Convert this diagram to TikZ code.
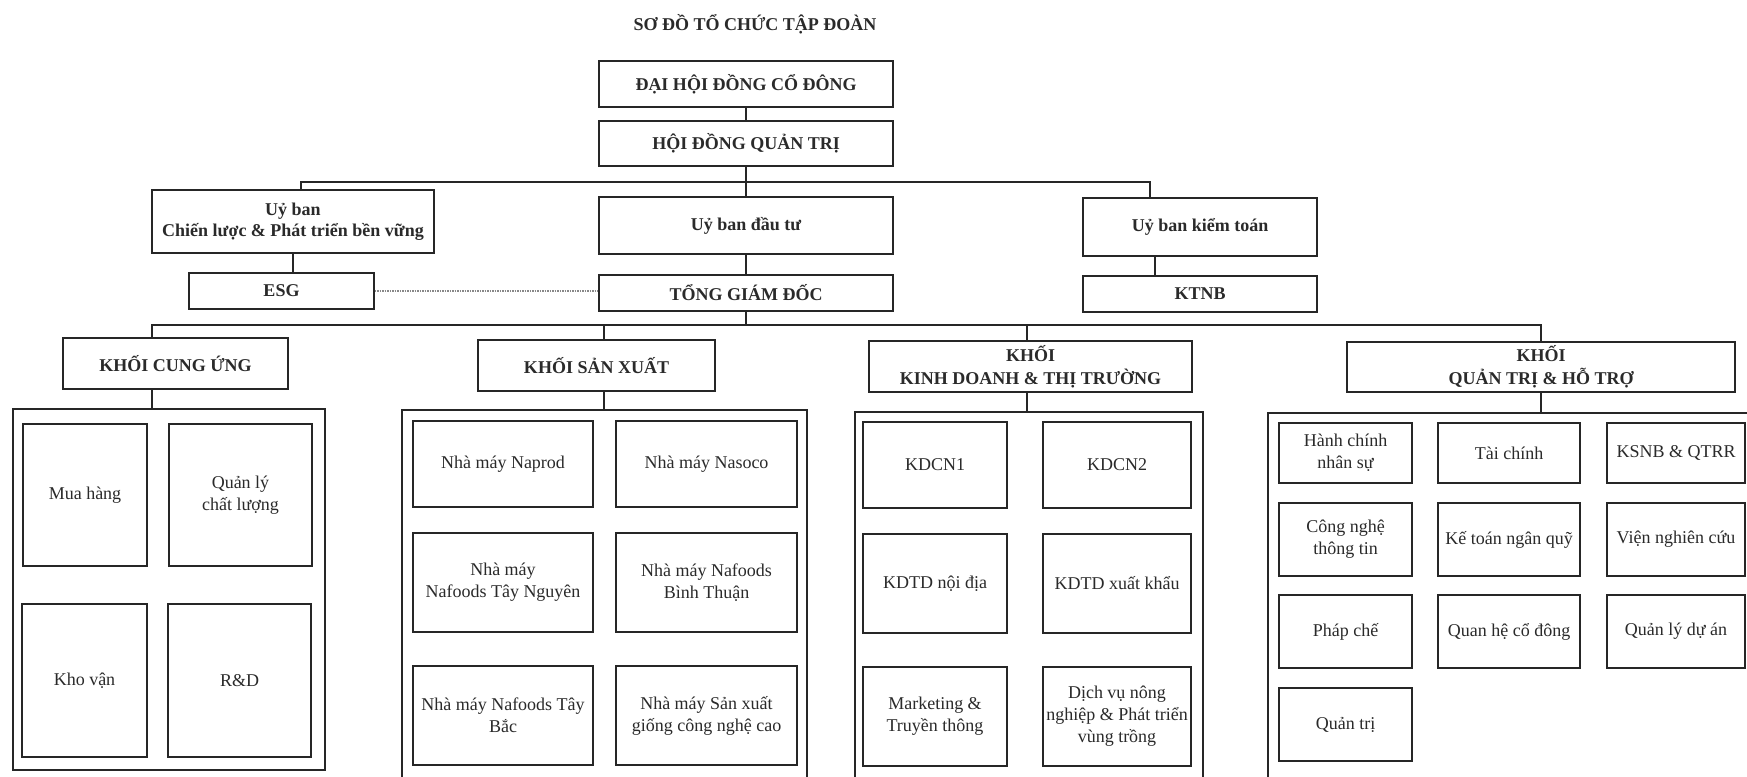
\documentclass[tikz,border=0pt]{standalone}
\usepackage{fontspec}
\setmainfont{Liberation Serif}
\definecolor{linec}{HTML}{262626}
\definecolor{textc}{HTML}{2A2A2A}
\begin{document}
\begin{tikzpicture}[x=1pt,y=-1pt,
  box/.style={draw=linec, line width=1.3pt, inner sep=2pt, align=center, text=textc, font=\fontsize{18}{22}\selectfont},
  bbox/.style={box, font=\bfseries\fontsize{18}{23}\selectfont},
  cont/.style={draw=linec, line width=1.3pt, inner sep=0pt},
  conn/.style={draw=linec, line width=1.3pt},
  dotline/.style={draw=linec!55, line width=1.6pt, dash pattern=on 1.5pt off 1pt},
]
\useasboundingbox (0,0) rectangle (1747,776);
\clip (0,0) rectangle (1747,776);
\fill[white] (0,0) rectangle (1747,776);

% title
\node[text=textc, font=\bfseries\fontsize{18}{22}\selectfont] (title) at (755,24) {SƠ ĐỒ TỔ CHỨC TẬP ĐOÀN};

% top levels
\node[bbox, minimum width=294pt, minimum height=46pt] (dhdcd) at (746,84) {ĐẠI HỘI ĐỒNG CỔ ĐÔNG};
\node[bbox, minimum width=294pt, minimum height=45pt] (hdqt) at (746,143.5) {HỘI ĐỒNG QUẢN TRỊ};
\node[bbox, minimum width=282pt, minimum height=63pt, font=\bfseries\fontsize{18}{21}\selectfont] (ubcl) at (293,221.5) {Uỷ ban\\Chiến lược \& Phát triển bền vững};
\node[bbox, minimum width=294pt, minimum height=57pt] (ubdt) at (746,225.5) {Uỷ ban đầu tư};
\node[bbox, minimum width=234pt, minimum height=58pt] (ubkt) at (1200,227) {Uỷ ban kiểm toán};
\node[bbox, minimum width=185pt, minimum height=36pt] (esg) at (281.5,291) {ESG};
\node[bbox, minimum width=294pt, minimum height=36pt] (tgd) at (746,293) {TỔNG GIÁM ĐỐC};
\node[bbox, minimum width=234pt, minimum height=36pt] (ktnb) at (1200,294) {KTNB};

% khoi headers
\node[bbox, minimum width=225pt, minimum height=51pt] (kcu) at (175.5,363.5) {KHỐI CUNG ỨNG};
\node[bbox, minimum width=237pt, minimum height=51pt] (ksx) at (596.5,365.5) {KHỐI SẢN XUẤT};
\node[bbox, minimum width=323pt, minimum height=51pt] (kkd) at (1030.5,366.5) {KHỐI\\KINH DOANH \& THỊ TRƯỜNG};
\node[bbox, minimum width=388pt, minimum height=50pt] (kqt) at (1541,367) {KHỐI\\QUẢN TRỊ \& HỖ TRỢ};

% containers
\node[cont, minimum width=312pt, minimum height=361pt] (ccu) at (169,589.5) {};
\node[cont, minimum width=405pt, minimum height=390pt] (csx) at (604.5,605) {};
\node[cont, minimum width=348pt, minimum height=388pt] (ckd) at (1029,606) {};
\node[cont, minimum width=512pt, minimum height=387pt] (cqt) at (1524,606.5) {};

% khoi cung ung
\node[box, minimum width=124pt, minimum height=142pt] (mua) at (85,495) {Mua hàng};
\node[box, minimum width=143pt, minimum height=142pt] (qlcl) at (240.5,495) {Quản lý\\chất lượng};
\node[box, minimum width=125pt, minimum height=153pt] (kho) at (84.5,680.5) {Kho vận};
\node[box, minimum width=143pt, minimum height=153pt] (rd) at (239.5,680.5) {R\&D};

% khoi san xuat
\node[box, minimum width=180pt, minimum height=86pt] (naprod) at (503,464) {Nhà máy Naprod};
\node[box, minimum width=181pt, minimum height=86pt] (nasoco) at (706.5,464) {Nhà máy Nasoco};
\node[box, minimum width=180pt, minimum height=99pt] (ntn) at (503,582.5) {Nhà máy\\Nafoods Tây Nguyên};
\node[box, minimum width=181pt, minimum height=99pt] (nbt) at (706.5,582.5) {Nhà máy Nafoods\\Bình Thuận};
\node[box, minimum width=180pt, minimum height=99pt] (ntb) at (503,715.5) {Nhà máy Nafoods Tây\\Bắc};
\node[box, minimum width=181pt, minimum height=99pt] (nsx) at (706.5,715.5) {Nhà máy Sản xuất\\giống công nghệ cao};

% khoi kinh doanh
\node[box, minimum width=144pt, minimum height=86pt] (kdcn1) at (935,465) {KDCN1};
\node[box, minimum width=148pt, minimum height=86pt] (kdcn2) at (1117,465) {KDCN2};
\node[box, minimum width=144pt, minimum height=99pt] (kdtdnd) at (935,583.5) {KDTD nội địa};
\node[box, minimum width=148pt, minimum height=99pt] (kdtdxk) at (1117,583.5) {KDTD xuất khẩu};
\node[box, minimum width=144pt, minimum height=99pt] (mkt) at (935,716.5) {Marketing \&\\Truyền thông};
\node[box, minimum width=148pt, minimum height=99pt, inner sep=1pt] (dvnn) at (1117,716.5) {Dịch vụ nông\\nghiệp \& Phát triển\\vùng trồng};

% khoi quan tri
\node[box, minimum width=133pt, minimum height=60pt] (hcns) at (1345.5,453) {Hành chính\\nhân sự};
\node[box, minimum width=142pt, minimum height=60pt] (tc) at (1509,453) {Tài chính};
\node[box, minimum width=138pt, minimum height=60pt] (ksnb) at (1676,453) {KSNB \& QTRR};
\node[box, minimum width=133pt, minimum height=73pt] (cntt) at (1345.5,539.5) {Công nghệ\\thông tin};
\node[box, minimum width=142pt, minimum height=73pt] (ktnq) at (1509,539.5) {Kế toán ngân quỹ};
\node[box, minimum width=138pt, minimum height=73pt] (vnc) at (1676,539.5) {Viện nghiên cứu};
\node[box, minimum width=133pt, minimum height=73pt] (pc) at (1345.5,631.5) {Pháp chế};
\node[box, minimum width=142pt, minimum height=73pt] (qhcd) at (1509,631.5) {Quan hệ cổ đông};
\node[box, minimum width=138pt, minimum height=73pt] (qlda) at (1676,631.5) {Quản lý dự án};
\node[box, minimum width=133pt, minimum height=73pt] (qtri) at (1345.5,724.5) {Quản trị};

% connectors
\coordinate (busA) at (746,182);
\coordinate (busB) at (746,325);
\draw[conn] (dhdcd.south) -- (hdqt.north);
\draw[conn] (hdqt.south) -- (ubdt.north);
\draw[conn] ([xshift=8pt]ubcl.north) |- (busA) -| ([xshift=-50pt]ubkt.north);
\draw[conn] (ubdt.south) -- (tgd.north);
\draw[conn] (ubcl.south) -- (ubcl.south |- esg.north);
\draw[conn] ([xshift=-45pt]ubkt.south) -- ([xshift=-45pt]ktnb.north);
\draw[dotline] (esg.east) -- (esg.east -| tgd.west);
\draw[conn] (tgd.south) -- (busB);
\draw[conn] ([xshift=-23.5pt]kcu.north) |- (busB) -| (kqt.north);
\draw[conn] ([xshift=7.5pt]ksx.north) -- ([xshift=7.5pt]ksx.north |- busB);
\draw[conn] ([xshift=-3.5pt]kkd.north) -- ([xshift=-3.5pt]kkd.north |- busB);
\draw[conn] ([xshift=-23.5pt]kcu.south) -- ([xshift=-23.5pt]kcu.south |- ccu.north);
\draw[conn] ([xshift=7.5pt]ksx.south) -- ([xshift=7.5pt]ksx.south |- csx.north);
\draw[conn] ([xshift=-3.5pt]kkd.south) -- ([xshift=-3.5pt]kkd.south |- ckd.north);
\draw[conn] (kqt.south) -- (kqt.south |- cqt.north);
\end{tikzpicture}
\end{document}
